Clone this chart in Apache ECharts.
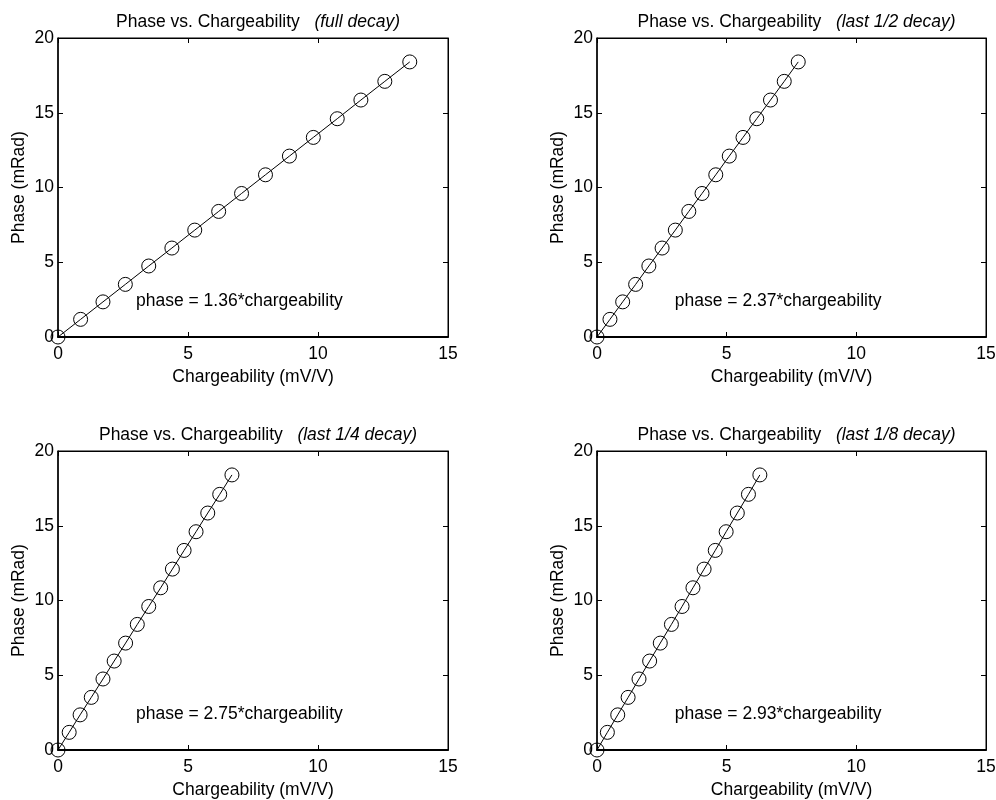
<!DOCTYPE html>
<html><head><meta charset="utf-8">
<script src="https://cdn.jsdelivr.net/npm/echarts@6/dist/echarts.min.js"></script>
<style>html,body{margin:0;padding:0;background:#fff}#c{width:996px;height:800px}</style>
</head><body><div id="c"></div>
<script>
const phase = [0, 1.18, 2.35, 3.52, 4.75, 5.95, 7.15, 8.4, 9.6, 10.85, 12.1, 13.35, 14.6, 15.85, 17.1, 18.4];
const chargeFull = [0, 0.87, 1.73, 2.59, 3.49, 4.38, 5.26, 6.18, 7.06, 7.98, 8.9, 9.82, 10.74, 11.65, 12.57, 13.53];
const chargeHalf = [0, 0.5, 0.99, 1.49, 2.0, 2.51, 3.02, 3.54, 4.05, 4.58, 5.1, 5.63, 6.16, 6.69, 7.22, 7.76];
const chargeQuarter = [0, 0.43, 0.85, 1.28, 1.73, 2.16, 2.6, 3.05, 3.49, 3.95, 4.4, 4.85, 5.31, 5.76, 6.22, 6.69];
const chargeEighth = [0, 0.4, 0.8, 1.2, 1.62, 2.03, 2.44, 2.87, 3.28, 3.7, 4.13, 4.56, 4.98, 5.41, 5.84, 6.28];
const subtitles = ['(full decay)', '(last 1/2 decay)', '(last 1/4 decay)', '(last 1/8 decay)'];
const equations = ['phase = 1.36*chargeability', 'phase = 2.37*chargeability', 'phase = 2.75*chargeability', 'phase = 2.93*chargeability'];
const xTicks = [0, 5, 10, 15];
const yTicks = [0, 5, 10, 15, 20];
const charges = [chargeFull, chargeHalf, chargeQuarter, chargeEighth];

const FONT = 'Liberation Sans, Arial, sans-serif';
const FS = 17.5;
const grids = [
  {left: 58, top: 38, width: 390, height: 299},
  {left: 597, top: 38, width: 389, height: 299},
  {left: 58, top: 451, width: 390, height: 299},
  {left: 597, top: 451, width: 389, height: 299}
];
const opt = {animation: false, backgroundColor: '#fff', title: [], grid: [], xAxis: [], yAxis: [], series: []};
grids.forEach((g, i) => {
  opt.grid.push(Object.assign({show: true, borderColor: '#000', borderWidth: 1, backgroundColor: 'transparent',
    containLabel: false, outerBoundsMode: 'none'}, g));
  opt.title.push({
    text: '{a|Phase vs. Chargeability}{b|   ' + subtitles[i] + '}',
    left: g.left + g.width / 2, top: g.top - 30, textAlign: 'center',
    textStyle: {fontWeight: 'normal', rich: {
      a: {fontFamily: FONT, fontSize: FS, color: '#000', fontWeight: 'normal'},
      b: {fontFamily: FONT, fontSize: FS, color: '#000', fontStyle: 'italic', fontWeight: 'normal'}
    }}
  });
  const base = {min: 0, max: 15, interval: 5, gridIndex: i, type: 'value', splitLine: {show: false}};
  opt.xAxis.push(Object.assign({}, base, {
    position: 'bottom', name: 'Chargeability (mV/V)', nameLocation: 'middle', nameGap: 31,
    nameTextStyle: {fontFamily: FONT, fontSize: FS, color: '#000'},
    axisLine: {onZero: false, lineStyle: {color: '#000', width: 2}},
    axisTick: {inside: true, length: 5, lineStyle: {color: '#000'}},
    axisLabel: {fontFamily: FONT, fontSize: FS, color: '#000', margin: 8, showMaxLabel: true}
  }));
  opt.xAxis.push(Object.assign({}, base, {
    position: 'top', show: true,
    axisLine: {show: true, onZero: false, lineStyle: {color: '#000', width: 1}},
    axisTick: {show: true, inside: true, length: 5, lineStyle: {color: '#000'}},
    axisLabel: {show: false}
  }));
  const ybase = {min: 0, max: 20, interval: 5, gridIndex: i, type: 'value', splitLine: {show: false}};
  opt.yAxis.push(Object.assign({}, ybase, {
    position: 'left', name: 'Phase (mRad)', nameLocation: 'middle', nameGap: 30,
    nameTextStyle: {fontFamily: FONT, fontSize: FS, color: '#000'},
    axisLine: {onZero: false, lineStyle: {color: '#000', width: 1.5}},
    axisTick: {inside: true, length: 5, lineStyle: {color: '#000'}},
    axisLabel: {fontFamily: FONT, fontSize: FS, color: '#000', margin: 4}
  }));
  opt.yAxis.push(Object.assign({}, ybase, {
    position: 'right', show: true,
    axisLine: {show: true, onZero: false, lineStyle: {color: '#000', width: 1}},
    axisTick: {show: true, inside: true, length: 5, lineStyle: {color: '#000'}},
    axisLabel: {show: false}
  }));
  opt.series.push({
    type: 'line', xAxisIndex: 2 * i, yAxisIndex: 2 * i,
    data: charges[i].map((c, k) => [c, phase[k]]),
    symbol: 'circle', symbolSize: 14, showAllSymbol: true,
    lineStyle: {color: '#000', width: 1},
    itemStyle: {color: 'rgba(255,255,255,0)', borderColor: '#000', borderWidth: 1},
    z: 3,
    markPoint: {
      symbol: 'circle', symbolSize: 0,
      data: [{coord: [3.0, 2.4], value: equations[i]}],
      label: {show: true, position: 'right', distance: 0, formatter: equations[i],
        fontFamily: FONT, fontSize: FS, color: '#000'}
    }
  });
  opt.series.push({
    type: 'line', xAxisIndex: 2 * i + 1, yAxisIndex: 2 * i + 1,
    data: [], silent: true
  });
});
const chart = echarts.init(document.getElementById('c'), null, {renderer: 'canvas'});
chart.setOption(opt);
</script></body></html>
